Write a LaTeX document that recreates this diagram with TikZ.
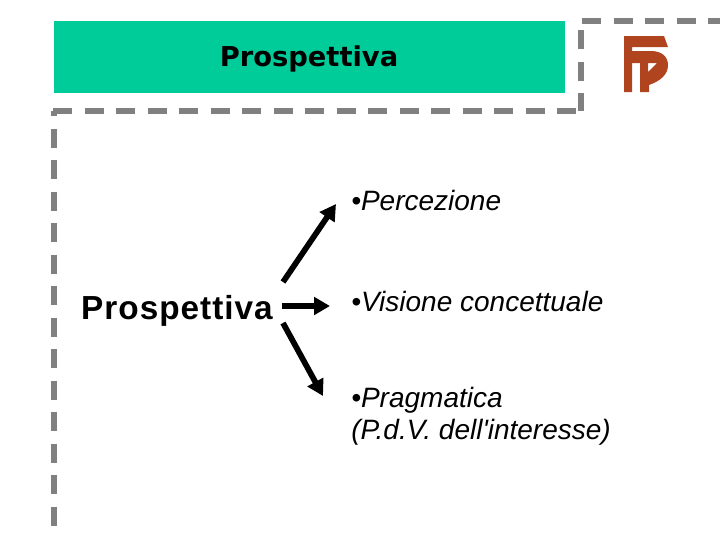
\documentclass[tikz,border=0pt]{standalone}
\usepackage{fontspec}
\setmainfont[Ligatures=TeXOff]{Liberation Sans}
\newfontfamily\titlefont{DejaVu Sans}
\newfontfamily\srcfont[LetterSpace=3,BoldFont={Liberation Sans Bold}]{Liberation Sans}
\definecolor{teal0}{HTML}{00CC99}
\definecolor{grey0}{HTML}{808080}
\definecolor{rust}{HTML}{B0441E}
\usetikzlibrary{arrows.meta}
\tikzset{
  dashline/.style={draw=grey0,line width=4.5pt,dash pattern=on 14.25pt off 9.375pt},
  arrowline/.style={draw=black,line width=4.3pt,-{Triangle[length=12pt,width=13pt]}},
  lbl/.style={font=\fontsize{21}{24}\selectfont\itshape,anchor=base west,inner sep=0pt,align=left}
}
\begin{document}
\begin{tikzpicture}[x=0.75pt,y=-0.75pt]
\useasboundingbox (0,0) rectangle (720,540);
\fill[teal0] (54,21) rectangle (565,93);
\node[font=\titlefont\bfseries\fontsize{20.5}{25}\selectfont,inner sep=0pt] (title) at (309,59) {Prospettiva};
\coordinate (a1) at (582,21); \coordinate (a2) at (720,21);
\coordinate (b1) at (581,30); \coordinate (b2) at (581,111);
\coordinate (c1) at (53,111); \coordinate (c2) at (577,111);
\coordinate (d1) at (54,110.5); \coordinate (d2) at (54,526);
\draw[dashline] (a1) -- (a2);
\draw[dashline] (b1) -- (b2);
\draw[dashline] (c1) -- (c2);
\draw[dashline,dash phase=10.1pt] (d1) -- (d2);
\fill[rust] (624,36) -- (664,36) -- (668,47) -- (632,47) -- (632,92) -- (624,92) -- cycle;
\fill[rust,even odd rule] (632,51) -- (651,51) .. controls (662,51) and (668,57) .. (668,65) .. controls (668,75) and (660,81) .. (649,85) -- (649,92) -- (640,92) -- (640,63) -- (632,63) -- cycle
 (648,63) -- (657,63) -- (648,72) -- cycle;
\node[font=\srcfont\bfseries\fontsize{25}{30}\selectfont,inner sep=0pt,anchor=base] (src) at (177,319) {Prospettiva};
\node[lbl] (p) at (351,210) {•Percezione};
\node[lbl] (v) at (351,311) {•Visione concettuale};
\node[lbl,anchor=west] (m) at (351,416) {•Pragmatica\\(P.d.V. dell'interesse)};
\coordinate (s1) at (283,282); \coordinate (e1) at (336,204);
\coordinate (s2) at (282,306); \coordinate (e2) at (330,306);
\coordinate (s3) at (283,323); \coordinate (e3) at (323,396);
\draw[arrowline] (s1) -- (e1);
\draw[arrowline] (s2) -- (e2);
\draw[arrowline] (s3) -- (e3);
\end{tikzpicture}
\end{document}
